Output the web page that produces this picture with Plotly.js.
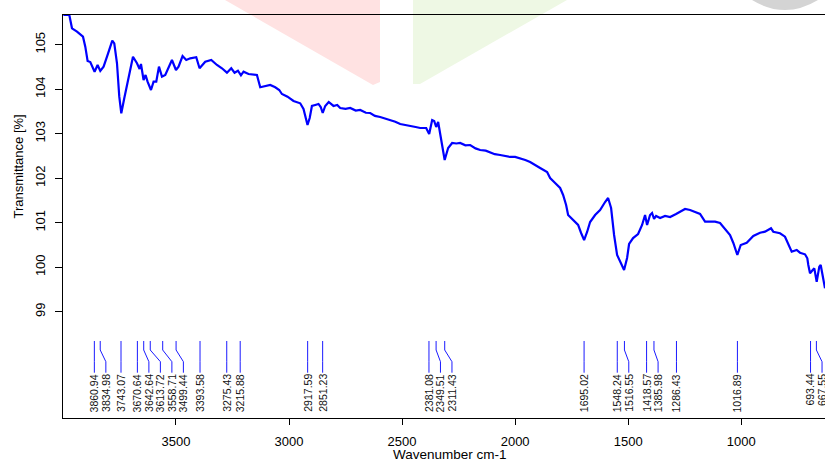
<!DOCTYPE html>
<html>
<head>
<meta charset="utf-8">
<script src="https://cdn.plot.ly/plotly-3.0.1.min.js"></script>
<style>
html,body{margin:0;padding:0;background:#fff;overflow:hidden;}
#chart{width:825px;height:463px;}
</style>
</head>
<body>
<div id="chart"></div>
<script>
// Spectrum (wavenumber in cm-1, transmittance in %)
const wavenumber = [3998,3971.7,3959.8,3937.7,3911.2,3901,3890.8,3878.9,3859.9,3846.6,3834.7,3820.1,3802.4,3790.5,3781.6,3772.8,3760.8,3750.7,3741.8,3728.6,3712.2,3690.1,3672.4,3660.9,3654.7,3643.2,3634.4,3625.6,3610.5,3599.0,3587.1,3575.2,3561.9,3547.3,3517.7,3500,3488.5,3470.8,3454.5,3436.8,3410.3,3395.7,3370.5,3343.9,3318.7,3296.6,3274.5,3255.5,3240.9,3225.9,3212.6,3201.1,3179.0,3141.9,3127.3,3105.2,3083.1,3061.0,3043.3,3031.4,3006.6,2980.1,2950.5,2935.9,2926.2,2918.2,2908.5,2898.7,2884.1,2869.6,2859.8,2851.0,2839.9,2824.5,2803.3,2786.9,2773.6,2750,2729.4,2705,2685.2,2660,2641.0,2620,2596.8,2575,2552.6,2530,2508.3,2485,2464.1,2440,2419.9,2393.4,2380.1,2366.9,2358.0,2349.2,2340.4,2327.1,2311.6,2296.2,2278.5,2260,2243.1,2220,2198.9,2175,2154.7,2130,2110.5,2090,2066.3,2045,2022.1,2000,1977.9,1955,1933.7,1910,1889.4,1858.5,1845.2,1823.1,1801.0,1787.7,1774.5,1765.6,1752.4,1734.7,1721.4,1708.2,1694.9,1681.6,1668.4,1646.3,1624.2,1602.1,1588.8,1575.5,1562.3,1549.0,1535.8,1518.1,1504.8,1496.0,1478.3,1456.2,1438.5,1425.3,1416.4,1403.2,1394.3,1385.5,1376.6,1358.9,1336.8,1314.7,1288.2,1270.5,1248.4,1226.3,1204.2,1182.1,1160.0,1115.8,1093.7,1071.6,1049.5,1034.9,1017.2,1002.2,975.7,946.5,916.9,894.8,880.2,868.3,858.1,828.5,806.4,791.8,776.8,754.7,740.1,718.0,707.7,703.3,695.8,683.9,676.8,666.2,654.7,648.5,641.4,629.5];
const transmittance = [105.667,105.667,105.368,105.292,105.18,104.955,104.634,104.611,104.393,104.544,104.409,104.506,104.769,104.955,105.09,105.031,104.582,103.832,103.459,103.796,104.169,104.730,104.582,104.454,104.566,104.207,104.319,104.169,103.982,104.169,104.169,104.506,104.281,104.319,104.656,104.431,104.506,104.746,104.656,104.694,104.717,104.470,104.618,104.656,104.544,104.470,104.371,104.470,104.371,104.416,104.312,104.393,104.342,104.319,104.043,104.072,104.094,104.043,103.982,103.892,103.832,103.735,103.683,103.555,103.375,103.196,103.353,103.623,103.645,103.668,103.600,103.465,103.623,103.712,103.623,103.645,103.578,103.560,103.578,103.520,103.533,103.470,103.465,103.400,103.375,103.345,103.308,103.270,103.218,103.200,103.173,103.150,103.128,103.128,102.993,103.308,103.286,103.151,103.263,102.859,102.409,102.679,102.791,102.780,102.791,102.740,102.746,102.670,102.634,102.620,102.589,102.540,102.522,102.500,102.477,102.480,102.454,102.410,102.364,102.300,102.229,102.139,102.005,101.892,101.780,101.623,101.398,101.173,101.106,101.016,100.949,100.769,100.611,100.791,101.016,101.173,101.285,101.465,101.555,101.330,100.724,100.274,100.117,99.937,100.207,100.522,100.656,100.746,100.949,101.173,100.949,101.173,101.218,101.083,101.151,101.106,101.151,101.128,101.196,101.241,101.308,101.285,101.241,101.196,101.023,101.023,100.994,100.859,100.724,100.544,100.274,100.499,100.551,100.701,100.776,100.798,100.836,100.874,100.798,100.762,100.686,100.537,100.349,100.387,100.326,100.290,100.200,100.050,99.863,99.937,99.975,99.674,100.012,100.050,99.863,99.526];

// Picked peaks
const peakPositions = [3860.94,3834.98,3743.07,3670.64,3642.64,3613.72,3558.71,3499.44,3393.58,3275.43,3215.88,2917.59,2851.23,2381.08,2349.51,2311.43,1695.02,1548.24,1516.55,1418.57,1385.98,1286.43,1016.89,693.44,667.55];
const peakLabels = ["3860.94","3834.98","3743.07","3670.64","3642.64","3613.72","3558.71","3499.44","3393.58","3275.43","3215.88","2917.59","2851.23","2381.08","2349.51","2311.43","1695.02","1548.24","1516.55","1418.57","1385.98","1286.43","1016.89","693.44","667.55"];

const xTicks = [3500,3000,2500,2000,1500,1000];
const yTicks = [99,100,101,102,103,104,105];
const xTitle = "Wavenumber cm-1";
const yTitle = "Transmittance [%]";

// layout geometry
const W = 825, H = 463;
const M = {l:63, r:0, t:15, b:45};
const xRange = [3999.6, 629.5];
const yRange = [96.612, 105.667];
const plotW = W - M.l - M.r;
const unitsPerPx = (xRange[0]-xRange[1]) / plotW;
const labelSep = 11.5 * unitsPerPx;

const shapes = [];
const annotations = [];
let prev = Infinity;
peakPositions.forEach((p, i) => {
  const lx = Math.min(p, prev - labelSep);
  prev = lx;
  shapes.push({
    type:'path', xref:'x', yref:'paper', layer:'above',
    path:`M ${p},0.1911 L ${p},0.1687 L ${lx},0.1397 L ${lx},0.1124`,
    line:{color:'#1a1aff', width:1}
  });
  annotations.push({
    x: lx, xref:'x', y:0.1115, yref:'paper',
    text: peakLabels[i], showarrow:false, textangle:-90,
    xanchor:'center', yanchor:'top', borderpad:0,
    font:{family:'Liberation Sans, Arial, sans-serif', size:10.5, color:'#111'}
  });
});

// axis titles
annotations.push({
  x:0.508, xref:'paper', y:-0.0918, yref:'paper', text:xTitle, showarrow:false,
  xanchor:'center', yanchor:'middle',
  font:{family:'Liberation Sans, Arial, sans-serif', size:13.5, color:'#000'}
});
annotations.push({
  x:-0.059, xref:'paper', y:0.624, yref:'paper', text:yTitle, showarrow:false, textangle:-90,
  xanchor:'center', yanchor:'middle',
  font:{family:'Liberation Sans, Arial, sans-serif', size:13, color:'#000'}
});

// faint background watermark
const px = v => (v - M.l) / plotW;
const py = v => (H - M.b - v) / (H - M.t - M.b);
shapes.push({type:'path', xref:'paper', yref:'paper', layer:'below', line:{width:0},
  fillcolor:'#ffe2e2',
  path:`M ${px(225)},${py(0)} L ${px(380)},${py(0)} L ${px(380)},${py(82)} L ${px(373)},${py(85)} Z`});
shapes.push({type:'path', xref:'paper', yref:'paper', layer:'below', line:{width:0},
  fillcolor:'#eef8e4',
  path:`M ${px(413)},${py(0)} L ${px(567)},${py(0)} L ${px(420)},${py(84)} L ${px(413)},${py(84)} Z`});
shapes.push({type:'path', xref:'paper', yref:'paper', layer:'below', line:{width:0},
  fillcolor:'#d4d4d4',
  path:`M ${px(752)},${py(0)} Q ${px(785)},${py(20)} ${px(818)},${py(0)} Z`});

const trace = {
  x: wavenumber, y: transmittance, type:'scatter', mode:'lines',
  line:{color:'#0000ff', width:2.2}, hoverinfo:'skip'
};

const axisFont = {family:'Liberation Sans, Arial, sans-serif', size:13, color:'#000'};
const layout = {
  width:W, height:H, margin:M,
  paper_bgcolor:'#fff', plot_bgcolor:'rgba(0,0,0,0)',
  showlegend:false,
  xaxis:{range:xRange, tickvals:xTicks, ticktext:xTicks.map(String),
    showgrid:false, zeroline:false, showline:true, mirror:true, linecolor:'#000', linewidth:1,
    ticks:'outside', ticklen:6, tickcolor:'#000', tickfont:axisFont, ticklabelstandoff:5},
  yaxis:{range:yRange, tickvals:yTicks, ticktext:yTicks.map(String),
    showgrid:false, zeroline:false, showline:true, mirror:false, linecolor:'#000', linewidth:1,
    ticks:'outside', ticklen:7, tickcolor:'#000', tickfont:axisFont, tickangle:-90, ticklabelstandoff:5},
  shapes: shapes,
  annotations: annotations
};
Plotly.newPlot('chart', [trace], layout, {staticPlot:true, displayModeBar:false});
</script>
</body>
</html>
